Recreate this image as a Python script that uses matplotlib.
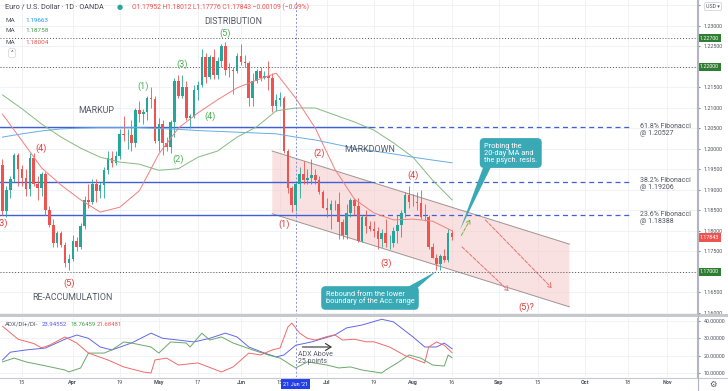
import numpy as np
import pandas as pd
import matplotlib
matplotlib.use('Agg')
import matplotlib.pyplot as plt
import matplotlib.transforms as mtrans
from matplotlib.patches import Polygon, Rectangle
from matplotlib.lines import Line2D

plt.rcParams['font.family'] = ['Roboto', 'DejaVu Sans']

# ---------------- data (EUR/USD daily, OANDA) ----------------
first_day = '2021-03-08'
last_day = '2021-08-16'

opens = [1.1960, 1.1848, 1.1900, 1.1928, 1.1985, 1.1952, 1.1930, 1.1902, 1.1978, 1.1915,
         1.1905, 1.1938, 1.1850, 1.1815, 1.1770, 1.1795, 1.1765, 1.1722, 1.1732, 1.1775,
         1.1760, 1.1812, 1.1875, 1.1870, 1.1915, 1.1898, 1.1912, 1.1948, 1.1978, 1.1965,
         1.1982, 1.2037, 1.2033, 1.2035, 1.2015, 1.2095, 1.2085, 1.2090, 1.2125, 1.2122,
         1.2020, 1.2062, 1.2015, 1.2005, 1.2065, 1.2165, 1.2130, 1.2150, 1.2075, 1.2080,
         1.2145, 1.2155, 1.2225, 1.2175, 1.2225, 1.2180, 1.2215, 1.2250, 1.2192, 1.2193,
         1.2190, 1.2228, 1.2213, 1.2210, 1.2125, 1.2166, 1.2190, 1.2172, 1.2178, 1.2172,
         1.2106, 1.2120, 1.2125, 1.1995, 1.1905, 1.1864, 1.1915, 1.1940, 1.1925, 1.1930,
         1.1937, 1.1925, 1.1895, 1.1857, 1.1850, 1.1865, 1.1865, 1.1822, 1.1790, 1.1845,
         1.1875, 1.1862, 1.1775, 1.1835, 1.1811, 1.1805, 1.1800, 1.1780, 1.1795, 1.1770,
         1.1770, 1.1800, 1.1815, 1.1844, 1.1887, 1.1870, 1.1870, 1.1868, 1.1835, 1.1833,
         1.1761, 1.1735, 1.1720, 1.1739, 1.1730, 1.17952]
highs = [1.1975, 1.1910, 1.1935, 1.1990, 1.1990, 1.1960, 1.1950, 1.1990, 1.1990, 1.1935,
         1.1945, 1.1943, 1.1860, 1.1830, 1.1800, 1.1800, 1.1772, 1.1745, 1.1790, 1.1785,
         1.1820, 1.1885, 1.1915, 1.1928, 1.1926, 1.1920, 1.1955, 1.1995, 1.1995, 1.1995,
         1.2048, 1.2080, 1.2048, 1.2070, 1.2100, 1.2118, 1.2098, 1.2130, 1.2150, 1.2130,
         1.2075, 1.2070, 1.2030, 1.2070, 1.2172, 1.2180, 1.2180, 1.2165, 1.2085, 1.2155,
         1.2165, 1.2245, 1.2235, 1.2230, 1.2245, 1.2225, 1.2256, 1.2260, 1.2210, 1.2200,
         1.2235, 1.2255, 1.2230, 1.2215, 1.2185, 1.2195, 1.2200, 1.2190, 1.2215, 1.2185,
         1.2135, 1.2140, 1.2130, 1.2000, 1.1910, 1.1920, 1.1955, 1.1970, 1.1950, 1.1975,
         1.1950, 1.1935, 1.1900, 1.1880, 1.1875, 1.1875, 1.1895, 1.1830, 1.1865, 1.1880,
         1.1880, 1.1880, 1.1840, 1.1850, 1.1825, 1.1825, 1.1810, 1.1805, 1.1830, 1.1790,
         1.1810, 1.1840, 1.1850, 1.1895, 1.1910, 1.1890, 1.1895, 1.1900, 1.1865, 1.1840,
         1.1770, 1.1745, 1.1745, 1.1755, 1.1805, 1.18012]
lows = [1.1838, 1.1835, 1.1880, 1.1920, 1.1910, 1.1910, 1.1885, 1.1885, 1.1910, 1.1875,
        1.1885, 1.1840, 1.1810, 1.1760, 1.1760, 1.1760, 1.1712, 1.1704, 1.1727, 1.1750,
        1.1755, 1.1805, 1.1855, 1.1865, 1.1870, 1.1880, 1.1880, 1.1940, 1.1955, 1.1960,
        1.1975, 1.2020, 1.2000, 1.1995, 1.2005, 1.2065, 1.2060, 1.2070, 1.2100, 1.2015,
        1.1995, 1.1985, 1.1995, 1.1990, 1.2030, 1.2125, 1.2125, 1.2070, 1.2050, 1.2075,
        1.2120, 1.2150, 1.2160, 1.2170, 1.2170, 1.2170, 1.2200, 1.2180, 1.2175, 1.2135,
        1.2185, 1.2205, 1.2200, 1.2105, 1.2105, 1.2160, 1.2165, 1.2170, 1.2145, 1.2090,
        1.2092, 1.2105, 1.1990, 1.1892, 1.1847, 1.1848, 1.1880, 1.1915, 1.1915, 1.1915,
        1.1915, 1.1890, 1.1855, 1.1835, 1.1805, 1.1850, 1.1780, 1.1780, 1.1780, 1.1835,
        1.1840, 1.1772, 1.1772, 1.1795, 1.1800, 1.1785, 1.1755, 1.1760, 1.1760, 1.1755,
        1.1760, 1.1770, 1.1785, 1.1835, 1.1855, 1.1860, 1.1850, 1.1830, 1.1825, 1.1755,
        1.1735, 1.1705, 1.1705, 1.1725, 1.1725, 1.17776]
closes = [1.1848, 1.1900, 1.1928, 1.1985, 1.1952, 1.1930, 1.1902, 1.1978, 1.1915, 1.1905,
          1.1938, 1.1850, 1.1815, 1.1770, 1.1795, 1.1765, 1.1722, 1.1732, 1.1775, 1.1760,
          1.1812, 1.1875, 1.1870, 1.1915, 1.1898, 1.1912, 1.1948, 1.1978, 1.1965, 1.1982,
          1.2037, 1.2033, 1.2035, 1.2015, 1.2095, 1.2085, 1.2090, 1.2125, 1.2122, 1.2020,
          1.2062, 1.2015, 1.2005, 1.2065, 1.2165, 1.2130, 1.2150, 1.2075, 1.2080, 1.2145,
          1.2155, 1.2225, 1.2175, 1.2225, 1.2180, 1.2215, 1.2250, 1.2192, 1.2193, 1.2190,
          1.2228, 1.2213, 1.2210, 1.2125, 1.2166, 1.2190, 1.2172, 1.2178, 1.2172, 1.2106,
          1.2120, 1.2125, 1.1995, 1.1905, 1.1864, 1.1915, 1.1940, 1.1925, 1.1930, 1.1937,
          1.1925, 1.1895, 1.1857, 1.1850, 1.1865, 1.1865, 1.1822, 1.1790, 1.1845, 1.1875,
          1.1862, 1.1775, 1.1835, 1.1811, 1.1805, 1.1800, 1.1780, 1.1795, 1.1770, 1.1770,
          1.1800, 1.1815, 1.1844, 1.1887, 1.1870, 1.1870, 1.1868, 1.1835, 1.1833, 1.1761,
          1.1735, 1.1720, 1.1739, 1.1730, 1.1795, 1.17843]

# moving averages, read weekly (Mondays)
ma_blue = [1.2029, 1.2037, 1.2044, 1.2049, 1.2051, 1.2052, 1.2052, 1.2052, 1.2050, 1.2048,
           1.2045, 1.2043, 1.2041, 1.2039, 1.2037, 1.2029, 1.2022, 1.2012, 1.2002, 1.1995,
           1.1988, 1.1980, 1.1973, 1.19663]
ma_green = [1.2132, 1.2098, 1.2061, 1.2029, 1.2002, 1.1980, 1.1968, 1.1963, 1.1948, 1.1952,
            1.1980, 1.1995, 1.2029, 1.2054, 1.2093, 1.2100, 1.2100, 1.2083, 1.2066, 1.2046,
            1.2015, 1.1980, 1.1924, 1.18758]
ma_red = [1.2085, 1.2020, 1.1954, 1.1912, 1.1876, 1.1846, 1.1858, 1.1898, 1.1988, 1.2051,
          1.2088, 1.2120, 1.2149, 1.2168, 1.2185, 1.2124, 1.2051, 1.1951, 1.1878, 1.1844,
          1.1827, 1.1829, 1.1824, 1.18004]

# ADX / DI+ / DI- panel
adx_days = ['03-08', '03-10', '03-16', '03-23', '03-30', '04-02', '04-07', '04-12', '04-15', '04-22',
            '04-29', '05-04', '05-10', '05-14', '05-20', '05-26', '05-31', '06-03', '06-09', '06-14',
            '06-16', '06-21', '06-25', '07-05', '07-08', '07-14', '07-21', '07-26', '08-02', '08-05',
            '08-10', '08-12', '08-16']
adx_vals = [17.5, 22, 23.3, 24.4, 29.5, 31.9, 30, 25, 23.3, 27.3,
            33, 30, 29, 27.9, 30, 33, 30.8, 25, 21.5, 19.3,
            20.4, 26, 27.9, 31.9, 36, 37.7, 41, 39.5, 30.8, 25,
            25, 27.3, 23.94552]
pdi_days = ['03-08', '03-11', '03-16', '03-22', '03-30', '03-31', '04-05', '04-07', '04-13', '04-15',
            '04-20', '04-22', '04-29', '05-03', '05-06', '05-12', '05-13', '05-18', '05-20', '05-25',
            '05-28', '06-04', '06-10', '06-15', '06-21', '06-24', '07-01', '07-06', '07-09', '07-14',
            '07-21', '07-22', '07-27', '07-30', '08-04', '08-09', '08-12', '08-13', '08-16']
pdi_vals = [16.4, 18.6, 16.4, 14.6, 11.7, 10.6, 12.9, 21.5, 21.5, 23.3,
            27.9, 27.3, 25, 21.5, 27.9, 27.3, 25, 33, 29, 30.8,
            27.3, 23.3, 20.4, 18.6, 12.9, 16.4, 14.6, 12.9, 13.5, 11.7,
            10, 11.7, 15.8, 20.4, 18.6, 14.6, 14, 20.4, 18.76459]
mdi_days = ['03-08', '03-12', '03-18', '03-22', '03-24', '03-30', '04-02', '04-07', '04-14', '04-20',
            '04-27', '04-29', '04-30', '05-05', '05-10', '05-17', '05-25', '05-28', '06-03', '06-08',
            '06-11', '06-15', '06-17', '06-18', '06-22', '06-24', '06-28', '07-01', '07-05', '07-07',
            '07-12', '07-15', '07-19', '07-23', '07-29', '08-03', '08-05', '08-06', '08-10', '08-12',
            '08-16']
mdi_vals = [37, 29.5, 27, 24.5, 26, 30.8, 27.3, 21.5, 17.5, 13.5,
            10.6, 10, 17.5, 18.6, 14.6, 15.8, 10.6, 13.5, 21.5, 20.4,
            23.3, 24.4, 36.5, 38.8, 33, 30, 29, 31, 32, 29,
            29.5, 28, 28, 25, 20, 17.5, 15.8, 25, 27.9, 26,
            21.68481]

fib_levels = [1.20527, 1.19206, 1.18388]
fib_names = ['61.8%', '38.2%', '23.6%']
fib_solid_end = '2021-07-16'
fib_dash_end = '2021-10-19'
fib_label_day = '2021-10-21'
dotted_levels = [1.227, 1.22, 1.17]

channel_days = ['2021-06-11', '2021-09-27']
channel_upper = [1.1995, 1.1768]
channel_lower = [1.1842, 1.1615]

tick_days = ['2021-03-15', '2021-04-01', '2021-04-19', '2021-05-03', '2021-05-17', '2021-06-01',
             '2021-06-15', '2021-07-01', '2021-07-19', '2021-08-02', '2021-08-16', '2021-09-01',
             '2021-09-15', '2021-10-01', '2021-10-18', '2021-11-01']
tick_labels = ['15', 'Apr', '19', 'May', '17', 'Jun', '15', 'Jul', '19', 'Aug', '16', 'Sep',
               '15', 'Oct', '18', 'Nov']

GREEN = '#26a69a'
RED = '#ef5350'
FIB = '#3f5fd6'
TXT = '#50535e'
CALL = '#3aa9b6'

# ---------------- figure ----------------
W, H = 728.0, 391.0
fig = plt.figure(figsize=(W / 100, H / 100), dpi=100)
ax = fig.add_axes([0, 76 / H, 697 / W, 315 / H])
ax2 = fig.add_axes([0, 14 / H, 697 / W, 59 / H])

cal = pd.bdate_range('2021-03-01', '2021-12-31')
pos = {d: i for i, d in enumerate(cal)}


def bx(d):
    return pos[pd.Timestamp(d)]


days = pd.bdate_range(first_day, last_day)
x = np.array([bx(d) for d in days])
o, hi, lo, c = map(np.array, (opens, highs, lows, closes))
col = np.where(c >= o, GREEN, RED)

ax.vlines(x, lo, hi, colors=col, lw=0.6, zorder=5)
ax.bar(x, np.maximum(np.abs(c - o), 0.00012), bottom=np.minimum(o, c), width=0.66,
       color=col, linewidth=0, zorder=6)

xl = (10 - 22 / 3.91, 10 + 675 / 3.91)
for a in (ax, ax2):
    a.set_xlim(*xl)
    a.set_xticks([bx(d) for d in tick_days])
    a.grid(True, color='#eef0f4', lw=0.6)
    a.set_axisbelow(True)
    for s in ('top', 'left', 'bottom'):
        a.spines[s].set_visible(False)
    a.spines['right'].set_color('#b2b5be')
    a.spines['right'].set_linewidth(0.8)
    a.yaxis.tick_right()
    a.tick_params(axis='y', labelsize=3.9, colors=TXT, length=2, width=0.5, pad=3)
    a.axvline(bx('2021-06-21'), color='#8a8fdc', lw=0.7, ls=(0, (2, 2)), zorder=3)


def price_fmt(v, p):
    # the boxed levels and the currency button sit on top of these ticks
    if any(abs(v - lv) < 1e-6 for lv in dotted_levels) or v > 1.2326:
        return ''
    return '%.5f' % v


ax.set_ylim(1.15951, 1.23634)
ax.set_yticks(np.arange(1.16, 1.2351, 0.005))
ax.yaxis.set_major_formatter(plt.FuncFormatter(price_fmt))
ax.tick_params(axis='x', length=0, labelbottom=False)

# channel (Acc. range)
cx = [bx(d) for d in channel_days]
ax.add_patch(Polygon([(cx[0], channel_upper[0]), (cx[1], channel_upper[1]),
                      (cx[1], channel_lower[1]), (cx[0], channel_lower[0])],
                     closed=True, fc='#f7c4c4', alpha=0.5, ec='none', zorder=1))
ax.plot(cx, channel_upper, color='#a09393', lw=0.7, zorder=2)
ax.plot(cx, channel_lower, color='#a09393', lw=0.7, zorder=2)

# fibonacci levels
for lv, nm in zip(fib_levels, fib_names):
    ax.plot([xl[0], bx(fib_solid_end)], [lv, lv], color=FIB, lw=1.0, zorder=4)
    ax.plot([bx(fib_solid_end), bx(fib_dash_end)], [lv, lv], color=FIB, lw=0.9,
            ls=(0, (4, 3)), zorder=4)
    ax.annotate('%s Fibonacci\n@ %.5f' % (nm, lv), (bx(fib_label_day), lv), xytext=(0, 3),
                textcoords='offset points', ha='left', va='top', fontsize=5, color=TXT,
                linespacing=1.0)

for lv in dotted_levels:
    ax.axhline(lv, color='#555555', lw=0.7, ls=(0, (1, 2)), zorder=3)

# moving averages
mx = [bx(d) for d in pd.date_range(first_day, last_day, freq='W-MON')]
ax.plot(mx, ma_blue, color='#66acea', lw=0.7, zorder=7)
ax.plot(mx, ma_green, color='#84bb80', lw=0.7, zorder=7)
ax.plot(mx, ma_red, color='#f27f7c', lw=0.7, zorder=7)

# projections
ax.annotate('', xy=(bx('2021-08-23'), 1.1834), xytext=(bx('2021-08-18'), 1.1783),
            arrowprops=dict(arrowstyle='->,head_length=0.25,head_width=0.15', color='#7cb342',
                            lw=0.7, ls='--'))
ax.annotate('', xy=(bx('2021-09-06'), 1.1649), xytext=(bx('2021-08-18'), 1.1766),
            arrowprops=dict(arrowstyle='->,head_length=0.3,head_width=0.2', color='#e57373',
                            lw=0.7, ls='--'))
ax.annotate('', xy=(bx('2021-09-21'), 1.1656), xytext=(bx('2021-08-26'), 1.1832),
            arrowprops=dict(arrowstyle='->,head_length=0.3,head_width=0.2', color='#e57373',
                            lw=0.7, ls='--'))

# labels
section_labels = [('2021-05-28', 1.23098, 'DISTRIBUTION'), ('2021-04-09', 1.20951, 'MARKUP'),
                  ('2021-07-16', 1.19976, 'MARKDOWN'), ('2021-04-01', 1.16390, 'RE-ACCUMULATION')]
green_waves = [('2021-04-27', 1.21537, '(1)'), ('2021-05-10', 1.19756, '(2)'),
               ('2021-05-11', 1.22073, '(3)'), ('2021-05-20', 1.20805, '(4)'),
               ('2021-05-26', 1.22829, '(5)')]
red_waves = [('2021-03-08', 1.18195, '(3)'), ('2021-03-22', 1.20024, '(4)'),
             ('2021-03-31', 1.16732, '(5)'), ('2021-06-16', 1.18171, '(1)'),
             ('2021-06-29', 1.19902, '(2)'), ('2021-07-22', 1.17220, '(3)'),
             ('2021-08-02', 1.19366, '(4)'), ('2021-09-10', 1.16146, '(5)?')]
for d, y, t in section_labels:
    ax.text(bx(d), y, t, ha='center', va='center', fontsize=6.4, color='#565a66', zorder=9)
for d, y, t in green_waves:
    ax.text(bx(d), y, t, ha='center', va='center', fontsize=6.6, color='#4caf50', zorder=9)
for d, y, t in red_waves:
    ax.text(bx(d), y, t, ha='center', va='center', fontsize=6.6, color='#e53935', zorder=9)

# callouts
callouts = [('Probing the\n20-day MA and\nthe psych. resis.', '2021-09-06', 1.19902,
             ['2021-08-26', '2021-08-30'], 1.1957, ('2021-08-18', 1.1802)),
            ('Rebound from the lower\nboundary of the Acc. range', '2021-07-16', 1.16366,
             ['2021-07-29', '2021-08-03'], 1.1660, ('2021-08-10', 1.1702))]
for txt, d, y, base, by, tip in callouts:
    ax.text(bx(d), y, txt, ha='center', va='center', multialignment='left', fontsize=5.3,
            color='white', linespacing=1.0, zorder=11,
            bbox=dict(boxstyle='round,pad=0.6,rounding_size=0.6', fc=CALL, ec='none'))
    ax.add_patch(Polygon([(bx(base[0]), by), (bx(base[1]), by), (bx(tip[0]), tip[1])],
                         closed=True, fc=CALL, ec='none', zorder=10))

# right price labels
bt = mtrans.blended_transform_factory(ax.transAxes, ax.transData)
for lv in dotted_levels:
    ax.annotate('%.5f' % lv, (1, lv), xycoords=bt, xytext=(2.2, 0), textcoords='offset points',
                ha='left', va='center', fontsize=3.9, color='white', annotation_clip=False,
                bbox=dict(boxstyle='square,pad=0.3', fc='#2e7d32', ec='none'))
ax.annotate('%.5f' % closes[-1], (1, closes[-1]), xycoords=bt, xytext=(2.2, 0),
            textcoords='offset points', ha='left', va='center', fontsize=3.9, color='white',
            annotation_clip=False, bbox=dict(boxstyle='square,pad=0.3', fc=RED, ec='none'))

# ADX panel
ax2.set_ylim(7.69, 41.73)
ax2.set_yticks([10, 20, 30, 40])
ax2.yaxis.set_major_formatter(plt.FuncFormatter(lambda v, p: '%.5f' % v))
ax2.plot([bx('2021-' + d) for d in adx_days], adx_vals, color='#6366e8', lw=0.7)
ax2.plot([bx('2021-' + d) for d in pdi_days], pdi_vals, color='#6aa86a', lw=0.7)
ax2.plot([bx('2021-' + d) for d in mdi_days], mdi_vals, color='#f06a6a', lw=0.7)
ax2.set_xticklabels(tick_labels)
ax2.tick_params(axis='x', length=0, labelsize=4.0, colors=TXT, pad=2.5)
for lab in ax2.get_xticklabels():
    if lab.get_text().isalpha():
        lab.set_fontweight('bold')
ax2.annotate('', xy=(bx('2021-07-05'), 25), xytext=(bx('2021-06-22'), 25),
             arrowprops=dict(arrowstyle='->,head_length=0.4,head_width=0.25', color='#333333',
                             lw=0.8))
ax2.annotate('ADX Above\n25 points', (bx('2021-06-21'), 22.6), xytext=(1.5, 0),
             textcoords='offset points', ha='left', va='top', fontsize=5, color='#5d606b',
             linespacing=1.0)
bt2 = mtrans.blended_transform_factory(ax2.transData, ax2.transAxes)
ax2.text(bx('2021-06-21'), -0.12, "21 Jun '21", transform=bt2, ha='center', va='center',
         fontsize=4.0, color='white', zorder=20, clip_on=False,
         bbox=dict(boxstyle='square,pad=0.4', fc='#2340e8', ec='none'))

# frame lines
fig.add_artist(Rectangle((0, (H - 317) / H), 1, 3 / H, transform=fig.transFigure,
                         color='#c6c8ce', lw=0))
fig.add_artist(Line2D([0, 1], [(H - 377.5) / H] * 2, transform=fig.transFigure,
                      color='#c6c8ce', lw=0.8))
fig.add_artist(Line2D([697.5 / W] * 2, [0, 1], transform=fig.transFigure,
                      color='#b2b5be', lw=0.8))


def ftext(px, py, s, **kw):
    fig.text(px / W, 1 - py / H, s, va='center', **kw)


# legends
ftext(5, 7, 'Euro / U.S. Dollar · 1D · OANDA', fontsize=5.2, color='#434651')
ftext(120, 7, '●', fontsize=5, color=GREEN, ha='center')
ftext(132, 7, 'O1.17952 H1.18012 L1.17776 C1.17843 −0.00109 (−0.09%)', fontsize=4.9, color=RED)
for py, v, cl in [(20, ma_blue[-1], '#2196f3'), (31, ma_green[-1], '#43a047'),
                  (42, ma_red[-1], RED)]:
    ftext(5, py, 'MA', fontsize=4.6, color=TXT)
    ftext(25, py, '%.5f' % v, fontsize=4.6, color=cl)
ftext(12, 53, '^', fontsize=4.5, color=TXT, ha='center',
      bbox=dict(boxstyle='round,pad=0.35', fc='white', ec='#d8dbe2', lw=0.6))
ftext(713, 6.5, 'USD ▾', fontsize=3.8, color=TXT, ha='center', zorder=30,
      bbox=dict(boxstyle='round,pad=0.3', fc='white', ec='#d1d4dc', lw=0.6))
ftext(5, 324, 'ADX/DI+/DI-', fontsize=4.4, color=TXT)
ftext(42, 324, '%.5f' % adx_vals[-1], fontsize=4.3, color='#5558e6')
ftext(70, 324, '%.5f' % pdi_vals[-1], fontsize=4.3, color='#43a047')
ftext(97, 324, '%.5f' % mdi_vals[-1], fontsize=4.3, color=RED)
ftext(713, 384, '⚙', fontsize=6, color=TXT, ha='center', family='DejaVu Sans')

fig.savefig('out.png', dpi=100)
